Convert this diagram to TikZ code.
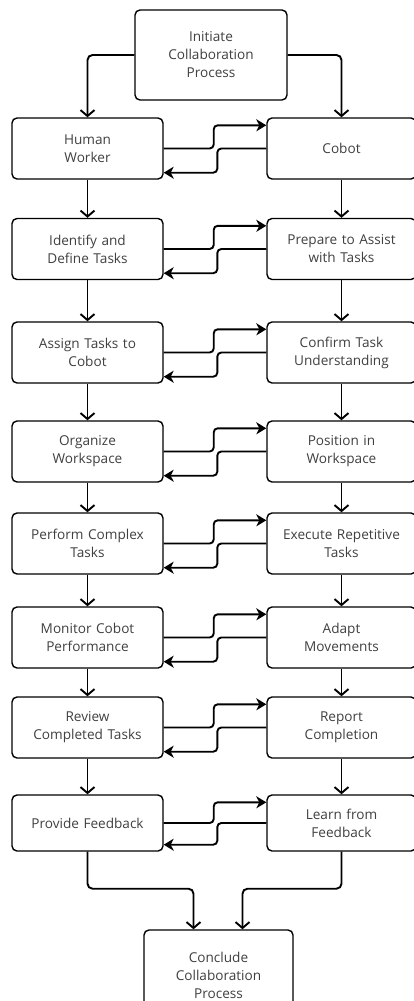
\documentclass[tikz,border=0pt]{standalone}
\usepackage{fontspec}
\setmainfont{Open Sans}
\usetikzlibrary{arrows.meta,calc}
\begin{document}
\begin{tikzpicture}[x=1pt,y=-1pt,
  box/.style={draw=black, line width=1.4pt, rounded corners=5pt, fill=white,
    align=center, text=black!75, font=\fontsize{13.6}{18}\selectfont,
    inner xsep=3pt, inner ysep=0pt, minimum height=61pt},
  lbox/.style={box, text width=145pt},
  rbox/.style={box, text width=143pt},
  varr/.style={line width=1.9pt, rounded corners=5pt, -{Straight Barb[length=6pt,width=14pt]}},
  harr/.style={line width=1.9pt, rounded corners=4pt, -{Stealth[length=10pt,width=12pt,inset=3pt]}}
]
\useasboundingbox (0,0) rectangle (414,1001);

\node[box, text width=146pt, minimum height=90pt] (init) at (211,55) {Initiate\\Collaboration\\Process};

\node[lbox] (hw) at (87.5,148.5) {Human\\Worker};
\node[rbox] (cb) at (341.5,148.5) {Cobot};
\node[lbox] (l2) at (87.5,249) {Identify and\\Define Tasks};
\node[rbox] (r2) at (341.5,249) {Prepare to Assist\\with Tasks};
\node[lbox] (l3) at (87.5,352.5) {Assign Tasks to\\Cobot};
\node[rbox] (r3) at (341.5,352.5) {Confirm Task\\Understanding};
\node[lbox] (l4) at (87.5,451.5) {Organize\\Workspace};
\node[rbox] (r4) at (341.5,451.5) {Position in\\Workspace};
\node[lbox] (l5) at (87.5,543.5) {Perform Complex\\Tasks};
\node[rbox] (r5) at (341.5,543.5) {Execute Repetitive\\Tasks};
\node[lbox] (l6) at (87.5,637.5) {Monitor Cobot\\Performance};
\node[rbox] (r6) at (341.5,637.5) {Adapt\\Movements};
\node[lbox] (l7) at (87.5,727.5) {Review\\Completed Tasks};
\node[rbox] (r7) at (341.5,727.5) {Report\\Completion};
\node[lbox, minimum height=56pt] (l8) at (87.5,823) {Provide Feedback};
\node[rbox, minimum height=56pt] (r8) at (341.5,823) {Learn from\\Feedback};

\node[box, text width=143pt, minimum height=90pt] (cc) at (218.5,975) {Conclude\\Collaboration\\Process};

% from start
\draw[varr] (init.west) -| (hw.north);
\draw[varr] (init.east) -| (cb.north);

% vertical flows
\foreach \a/\b in {hw/l2,l2/l3,l3/l4,l4/l5,l5/l6,l6/l7,l7/l8,cb/r2,r2/r3,r3/r4,r4/r5,r5/r6,r6/r7,r7/r8}
  \draw[varr] (\a.south) -- (\b.north);

% cross exchanges
\foreach \l/\r in {hw/cb,l2/r2,l3/r3,l4/r4,l5/r5,l6/r6,l7/r7,l8/r8}{
  \draw[harr] (\l.east) -- ++(50,0) |- ([yshift=-8pt]\r.north west);
  \draw[harr] (\r.west) -- ++(-49,0) |- ([yshift=7pt]\l.south east);
}

% to conclusion
\coordinate (cl) at ($(cc.north)+(-25,0)$);
\coordinate (cr) at ($(cc.north)+(24,0)$);
\draw[varr] (l8.south) -- ++(0,37) -| (cl);
\draw[varr] (r8.south) -- ++(0,37) -| (cr);
\end{tikzpicture}
\end{document}
